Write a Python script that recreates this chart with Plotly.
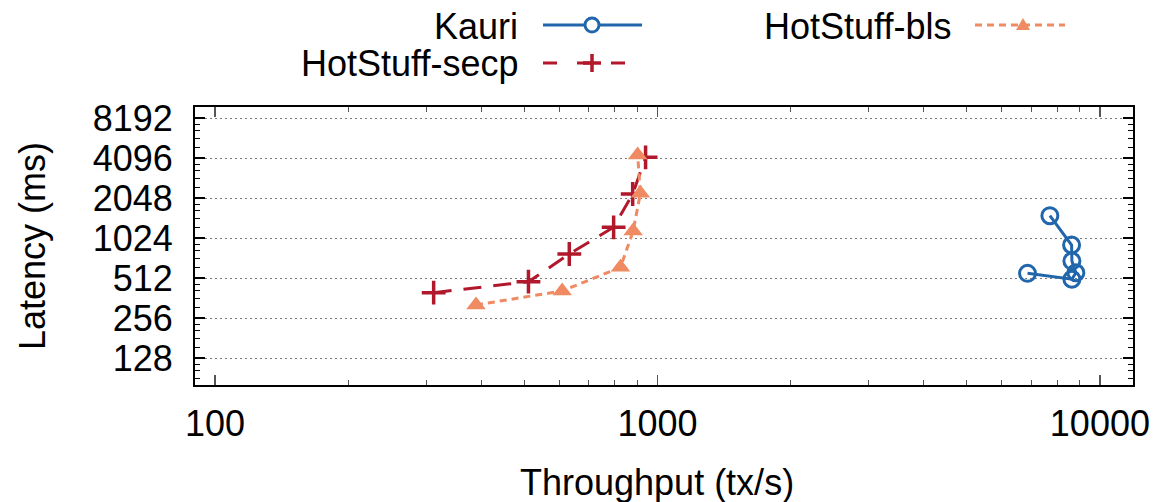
import math
import plotly.graph_objects as go

# ---- data ----
kauri_tput = [6861, 8644, 8825, 8644, 8630, 7708]
kauri_lat = [555, 501, 561, 687, 907, 1507]

secp_tput = [312, 511, 632, 796, 879, 940]
secp_lat = [397, 480, 776, 1233, 2195, 4146]

bls_tput = [389, 609, 825, 881, 915, 902]
bls_lat = [321, 409, 616, 1156, 2222, 4314]

x_tick_vals = [100, 1000, 10000]
x_tick_text = ["100", "1000", "10000"]
y_tick_vals = [128, 256, 512, 1024, 2048, 4096, 8192]
y_tick_text = ["128", "256", "512", "1024", "2048", "4096", "8192"]

colors = {"Kauri": "#2166ac", "HotStuff-secp": "#b2182b", "HotStuff-bls": "#ef8a62"}

FONT = "Liberation Sans, Arial, Helvetica, sans-serif"
FS = 36

W, H = 1164, 502
# plot area in screenshot pixels
L, R, T, B = 195, 1133, 107, 385


def px(x):
    return (x - L) / (R - L)


def py(y):
    return (B - y) / (B - T)


fig = go.Figure()

fig.add_trace(go.Scatter(
    x=kauri_tput, y=kauri_lat, mode="lines+markers", name="Kauri",
    line=dict(color=colors["Kauri"], width=3),
    marker=dict(symbol="circle-open", size=16, color=colors["Kauri"],
                line=dict(width=3, color=colors["Kauri"])),
    showlegend=False))

fig.add_trace(go.Scatter(
    x=secp_tput, y=secp_lat, mode="lines+markers", name="HotStuff-secp",
    line=dict(color=colors["HotStuff-secp"], width=3, dash="18px,12px"),
    marker=dict(symbol="cross-thin-open", size=17, color=colors["HotStuff-secp"],
                line=dict(width=3.5, color=colors["HotStuff-secp"])),
    showlegend=False))

fig.add_trace(go.Scatter(
    x=bls_tput, y=bls_lat, mode="lines+markers", name="HotStuff-bls",
    line=dict(color=colors["HotStuff-bls"], width=3, dash="7px,5px"),
    marker=dict(symbol="triangle-up", size=17, color=colors["HotStuff-bls"],
                line=dict(width=0)),
    showlegend=False))

# minor ticks
x_minor = [m * d for d in (100, 1000) for m in range(2, 10)]
y_minor = [v * f for v in [64] + y_tick_vals for f in (1.2, 1.4, 1.6, 1.8)]

fig.update_xaxes(
    type="log",
    range=[math.log10(90.1), math.log10(11880)],
    tickmode="array", tickvals=x_tick_vals, ticktext=x_tick_text,
    ticks="inside", ticklen=10, tickwidth=1.5, tickcolor="#555",
    minor=dict(tickvals=x_minor, ticks="inside", ticklen=5, tickwidth=1, tickcolor="#555",
               showgrid=False),
    showgrid=False, zeroline=False,
    showline=True, linecolor="black", linewidth=2, mirror="allticks",
    tickfont=dict(family=FONT, size=FS, color="black"),
    ticklabelstandoff=6,
)
fig.update_yaxes(
    type="log",
    range=[6.325 * math.log10(2), 13.275 * math.log10(2)],
    tickmode="array", tickvals=y_tick_vals, ticktext=y_tick_text,
    ticks="inside", ticklen=10, tickwidth=1.5, tickcolor="black",
    minor=dict(tickvals=y_minor, ticks="inside", ticklen=5, tickwidth=1, tickcolor="black",
               showgrid=False),
    showgrid=True, gridcolor="#7a7a7a", gridwidth=1, griddash="2px,3px",
    zeroline=False,
    showline=True, linecolor="black", linewidth=2, mirror="allticks",
    tickfont=dict(family=FONT, size=FS, color="black"),
    ticklabelstandoff=13,
)

annotations = [
    dict(text="Throughput (tx/s)", x=px(657), y=py(482), xref="paper", yref="paper",
         showarrow=False, xanchor="center", yanchor="middle",
         font=dict(family=FONT, size=FS, color="black")),
    dict(text="Latency (ms)", x=px(32), y=py(246), xref="paper", yref="paper",
         showarrow=False, xanchor="center", yanchor="middle", textangle=-90,
         font=dict(family=FONT, size=FS, color="black")),
    # legend texts
    dict(text="Kauri", x=px(520), y=py(26), xref="paper", yref="paper",
         showarrow=False, xanchor="right", yanchor="middle",
         font=dict(family=FONT, size=FS, color="black")),
    dict(text="HotStuff-secp", x=px(520), y=py(63), xref="paper", yref="paper",
         showarrow=False, xanchor="right", yanchor="middle",
         font=dict(family=FONT, size=FS, color="black")),
    dict(text="HotStuff-bls", x=px(953), y=py(26), xref="paper", yref="paper",
         showarrow=False, xanchor="right", yanchor="middle",
         font=dict(family=FONT, size=FS, color="black")),
]

shapes = []
# Kauri legend sample
shapes.append(dict(type="line", xref="paper", yref="paper",
                   x0=px(543), x1=px(642), y0=py(25), y1=py(25),
                   line=dict(color=colors["Kauri"], width=3)))
shapes.append(dict(type="circle", xref="paper", yref="paper",
                   xsizemode="pixel", ysizemode="pixel",
                   xanchor=px(592), yanchor=py(25), x0=-7, x1=7, y0=-7, y1=7,
                   line=dict(color=colors["Kauri"], width=3), fillcolor="white"))
# secp legend sample
shapes.append(dict(type="line", xref="paper", yref="paper",
                   x0=px(543), x1=px(625), y0=py(63), y1=py(63),
                   line=dict(color=colors["HotStuff-secp"], width=3, dash="14px,20px")))
shapes.append(dict(type="line", xref="paper", yref="paper",
                   xsizemode="pixel", ysizemode="pixel",
                   xanchor=px(592), yanchor=py(63), x0=-9, x1=9, y0=0, y1=0,
                   line=dict(color=colors["HotStuff-secp"], width=3.5)))
shapes.append(dict(type="line", xref="paper", yref="paper",
                   xsizemode="pixel", ysizemode="pixel",
                   xanchor=px(592), yanchor=py(63), x0=0, x1=0, y0=-9, y1=9,
                   line=dict(color=colors["HotStuff-secp"], width=3.5)))
# bls legend sample
shapes.append(dict(type="line", xref="paper", yref="paper",
                   x0=px(975), x1=px(1065), y0=py(25), y1=py(25),
                   line=dict(color=colors["HotStuff-bls"], width=3, dash="7px,5px")))
shapes.append(dict(type="path", xref="paper", yref="paper",
                   xsizemode="pixel", ysizemode="pixel",
                   xanchor=px(1023), yanchor=py(25),
                   path="M-7,-5 L7,-5 L0,7 Z",
                   line=dict(color=colors["HotStuff-bls"], width=0),
                   fillcolor=colors["HotStuff-bls"]))

fig.update_layout(
    width=W, height=H, autosize=False,
    margin=dict(l=L, r=W - R, t=T, b=H - B, pad=0),
    paper_bgcolor="white", plot_bgcolor="white",
    font=dict(family=FONT, size=FS, color="black"),
    annotations=annotations, shapes=shapes,
    showlegend=False,
)

fig.write_html(
    "out.html",
    config={"displayModeBar": False, "staticPlot": True},
    post_script="document.body.style.margin='0';document.body.style.padding='0';",
)
